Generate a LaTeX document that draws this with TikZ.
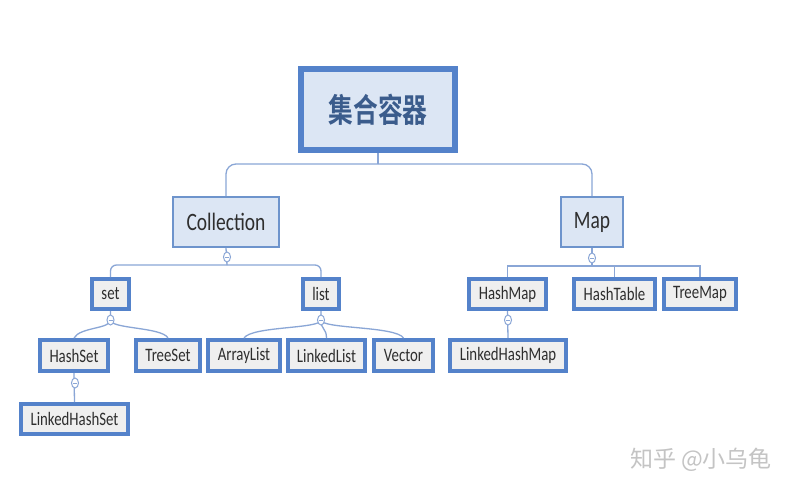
\documentclass[tikz,border=0pt]{standalone}
\usepackage{fontspec}
\setmainfont{Carlito}[FakeStretch=0.78]
\newfontfamily\cjkb{Noto Sans CJK SC Bold}[FakeStretch=0.75]
\newfontfamily\cjkr{Noto Sans CJK SC}
\usetikzlibrary{shapes.geometric}
\definecolor{bordblue}{HTML}{5482CA}
\definecolor{midblue}{HTML}{6E94CC}
\definecolor{lightfill}{HTML}{DCE6F4}
\definecolor{leaffill}{HTML}{EFEFEF}
\definecolor{connc}{HTML}{8AA6D6}
\definecolor{roottext}{HTML}{3B5C8C}
\definecolor{leaftext}{HTML}{2E2E2E}
\definecolor{wmgray}{HTML}{C4C4C4}
\tikzset{
  rootbox/.style={draw=bordblue, line width=6pt, fill=lightfill, inner sep=0pt,
    minimum width=154pt, minimum height=81pt, text=roottext,
    font=\cjkb\fontsize{33}{36}\selectfont},
  midbox/.style={draw=midblue, line width=2pt, fill=lightfill, inner sep=0pt,
    minimum height=50pt, text=leaftext, font=\fontsize{25}{28}\selectfont},
  leafbox/.style={draw=bordblue, line width=4pt, fill=leaffill, inner sep=0pt,
    minimum height=31pt, text=leaftext, font=\fontsize{19}{21}\selectfont},
  conn/.style={draw=connc, line width=1.3pt},
  collapse/.style={ellipse, draw=connc, line width=1pt, fill=white, inner sep=0pt,
    minimum width=7pt, minimum height=10pt,
    path picture={\draw[connc, line width=0.8pt]
      ([xshift=-2pt]path picture bounding box.center) --
      ([xshift=2pt]path picture bounding box.center);}},
}
\begin{document}
\begin{tikzpicture}[x=1pt, y=-1pt]
\useasboundingbox[fill=white] (0,0) rectangle (795,493);

% nodes
\node[rootbox] (root) at (378,109.5) {集合容器};
\node[midbox, minimum width=106pt] (coll) at (226,222) {Collection};
\node[midbox, minimum width=62pt] (map) at (592,222) {Map};

\node[leafbox, minimum width=37pt, minimum height=30pt] (set) at (110.5,294) {set};
\node[leafbox, minimum width=36pt, minimum height=30pt] (list) at (321,294) {list};
\node[leafbox, minimum width=77pt, minimum height=30pt] (hm) at (507.5,294) {HashMap};
\node[leafbox, minimum width=81pt, minimum height=30pt] (ht) at (614.5,294) {HashTable};
\node[leafbox, minimum width=72pt, minimum height=30pt] (tm) at (700,294) {TreeMap};

\node[leafbox, minimum width=68pt] (hs) at (74,355.5) {HashSet};
\node[leafbox, minimum width=64pt] (ts) at (168,355.5) {TreeSet};
\node[leafbox, minimum width=72pt] (al) at (244,355.5) {ArrayList};
\node[leafbox, minimum width=77pt] (ll) at (326.5,355.5) {LinkedList};
\node[leafbox, minimum width=59pt] (vec) at (403.5,355.5) {Vector};
\node[leafbox, minimum width=116pt] (lhm) at (508,355.5) {LinkedHashMap};
\node[leafbox, minimum width=107pt, minimum height=30pt] (lhs) at (74.5,419) {LinkedHashSet};

% junction coordinates
\coordinate (j0) at (378,164);
\coordinate (j1) at (227,265);
\coordinate (j2) at (592,266);
\coordinate (p1) at (227,257);
\coordinate (p4) at (592,258);
\coordinate (p2) at (110.5,320);
\coordinate (p3) at (321,320);
\coordinate (p5) at (508,320);
\coordinate (p6) at (75,383);

% connectors
\draw[conn] (root.south) -- (j0);
\draw[conn, rounded corners=10pt] (j0) -| (coll.north);
\draw[conn, rounded corners=10pt] (j0) -| (map.north);

\draw[conn] (coll.south) -- (j1);
\draw[conn, rounded corners=6pt] (j1) -| (set.north);
\draw[conn, rounded corners=6pt] (j1) -| (list.north);

\draw[conn] (map.south) -- (j2);
\draw[conn] (j2) -| (hm.north);
\draw[conn] (j2) -| (ht.north);
\draw[conn] (j2) -| (tm.north);

\draw[conn] (set.south) -- (p2) .. controls (110.5,329) and (80,327) .. (hs.north);
\draw[conn] (p2) .. controls (110.5,329) and (162,327) .. (ts.north);

\draw[conn] (list.south) -- (p3) .. controls (321,329) and (252,326) .. (al.north);
\draw[conn] (p3) .. controls (321,330) and (326.5,328) .. (ll.north);
\draw[conn] (p3) .. controls (321,329) and (396,326) .. (vec.north);

\draw[conn] (hm.south) -- (lhm.north);
\draw[conn] (hs.south) -- (lhs.north);

% collapse markers on top of connectors
\node[collapse] (c1) at (p1) {};
\node[collapse] (c4) at (p4) {};
\node[collapse] (c2) at (p2) {};
\node[collapse] (c3) at (p3) {};
\node[collapse] (c5) at (p5) {};
\node[collapse] (c6) at (p6) {};

% watermark
\node[text=wmgray, font=\cjkr\fontsize{23}{26}\selectfont, inner sep=0pt] (wm) at (701,460) {知乎 @小乌龟};
\end{tikzpicture}
\end{document}
